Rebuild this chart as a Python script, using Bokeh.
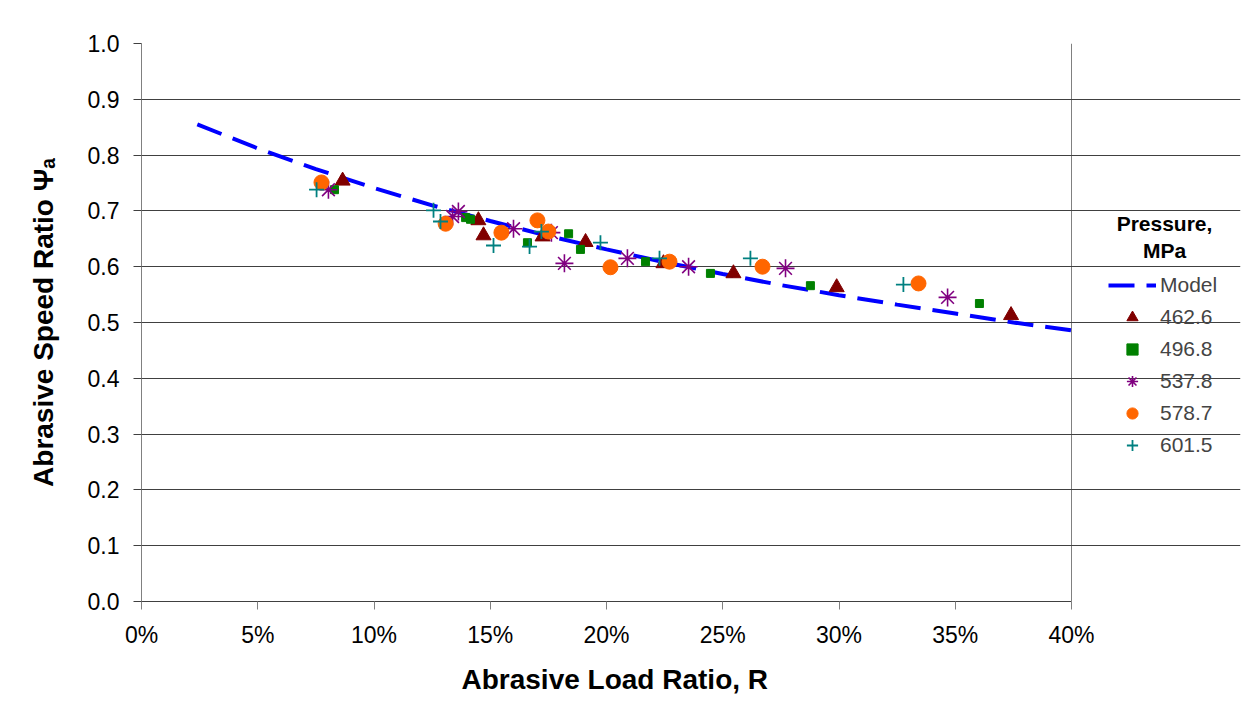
from bokeh.plotting import figure
from bokeh.models import (ColumnDataSource, Legend, LegendItem, Label, Title,
                          NumeralTickFormatter, FixedTicker, Range1d)
from bokeh.embed import file_html
from bokeh.resources import INLINE

FONT = "Liberation Sans"

# Model curve: load ratio in %, speed ratio
model_x = [2.4, 5, 7.5, 10, 12.5, 15, 17.5, 20, 22.5, 25, 27.5, 30, 32.5, 35, 37.5, 40]
model_y = [0.855, 0.812, 0.775, 0.741, 0.710, 0.682, 0.655, 0.631, 0.608, 0.587,
           0.567, 0.549, 0.532, 0.516, 0.500, 0.486]

# Measured series, by pressure (MPa)
p4626_x = [8.65, 14.49, 14.71, 17.25, 19.1, 22.45, 25.46, 29.9, 37.4]
p4626_y = [0.754, 0.683, 0.656, 0.654, 0.644, 0.606, 0.588, 0.563, 0.513]

p4968_x = [8.3, 13.94, 14.15, 16.6, 18.37, 18.88, 21.68, 24.47, 28.77, 36.04]
p4968_y = [0.738, 0.688, 0.685, 0.643, 0.659, 0.631, 0.609, 0.588, 0.566, 0.534]

p5378_x = [8.04, 13.38, 13.63, 16.0, 17.63, 18.19, 20.9, 23.53, 27.7, 34.67]
p5378_y = [0.738, 0.690, 0.699, 0.668, 0.661, 0.606, 0.615, 0.600, 0.597, 0.545]

p5787_x = [7.74, 13.08, 15.48, 17.03, 17.5, 20.17, 22.71, 26.71, 33.42]
p5787_y = [0.751, 0.677, 0.661, 0.683, 0.663, 0.599, 0.609, 0.600, 0.570]

p6015_x = [7.53, 12.56, 12.86, 15.14, 16.69, 17.2, 19.74, 22.28, 26.19, 32.77]
p6015_y = [0.738, 0.701, 0.681, 0.638, 0.636, 0.663, 0.643, 0.615, 0.615, 0.568]

x_ticks = [0, 0.05, 0.10, 0.15, 0.20, 0.25, 0.30, 0.35, 0.40]
y_ticks = [0.0, 0.1, 0.2, 0.3, 0.4, 0.5, 0.6, 0.7, 0.8, 0.9, 1.0]
legend_labels = ["Model", "462.6", "496.8", "537.8", "578.7", "601.5"]
legend_title = ["Pressure,", "MPa"]
x_title = "Abrasive Load Ratio, R"
y_title = "Abrasive Speed Ratio Ψₐ"

X_MAX = 0.40
W, H = 1245, 709
LEFT, RIGHT, TOP, BOTTOM = 141, 5, 43, 108
PLOT_W = 930  # pixel width of the 0..40% area
frame_w = W - LEFT - RIGHT
x_end = X_MAX * frame_w / PLOT_W


def src(xs, ys):
    return ColumnDataSource(dict(x=[v / 100 for v in xs], y=ys))


p = figure(width=W, height=H, output_backend="svg", toolbar_location=None,
           x_range=Range1d(0, x_end), y_range=Range1d(0, 1.0),
           min_border_left=LEFT, min_border_right=RIGHT, min_border_top=TOP,
           min_border_bottom=BOTTOM)
p.background_fill_color = "white"
p.border_fill_color = "white"
p.outline_line_color = None

# horizontal gridlines only across the 0..40% area
p.ygrid.grid_line_color = "#404040"
p.ygrid.grid_line_width = 1
p.ygrid.ticker = FixedTicker(ticks=y_ticks)
p.ygrid.bounds = (0, X_MAX)
# right border of plot area
p.xgrid.ticker = FixedTicker(ticks=[X_MAX])
p.xgrid.grid_line_color = "#808080"
p.xgrid.grid_line_width = 1
p.xgrid.bounds = (0, 1.0)

p.xaxis.ticker = FixedTicker(ticks=x_ticks)
p.yaxis.ticker = FixedTicker(ticks=y_ticks)
p.xaxis.bounds = (0, X_MAX)
p.xaxis.formatter = NumeralTickFormatter(format="0%")
p.yaxis.formatter = NumeralTickFormatter(format="0.0")

for ax in (p.xaxis[0], p.yaxis[0]):
    ax.major_label_text_font = FONT
    ax.major_label_text_font_size = "23px"
    ax.major_label_text_color = "black"
    ax.axis_label_text_font = FONT
    ax.axis_label_text_font_size = "28px"
    ax.axis_label_text_font_style = "bold"
    ax.axis_label_text_color = "black"
    ax.minor_tick_line_color = None
    ax.major_tick_in = 0
    ax.major_tick_out = 8
    ax.axis_line_width = 1

p.yaxis.axis_label = y_title
p.xaxis.axis_line_color = "#404040"
p.xaxis.major_tick_line_color = "#808080"
p.yaxis.axis_line_color = "#808080"
p.yaxis.major_tick_line_color = "#404040"
p.xaxis.major_label_standoff = 12
p.yaxis.major_label_standoff = 14
p.yaxis.axis_label_standoff = 26

# x-axis title, placed under the 0..40% area (not the whole frame)
p.add_layout(Title(text=x_title, align="left", offset=320,
                   standoff=22, text_font=FONT, text_font_size="28px",
                   text_font_style="bold", text_color="black"), "below")

r_model = p.line("x", "y", source=src(model_x, model_y), line_color="#0000FF",
                 line_width=4, line_dash="26 12")

r1 = p.scatter("x", "y", source=src(p4626_x, p4626_y), marker="triangle", size=15,
               fill_color="#800000", line_color="#800000")
r2 = p.scatter("x", "y", source=src(p4968_x, p4968_y), marker="square", size=8,
               fill_color="#008000", line_color="#008000")
r3 = p.scatter("x", "y", source=src(p5378_x, p5378_y), marker="asterisk", size=18,
               line_color="#800080", line_width=1.6)
r4 = p.scatter("x", "y", source=src(p5787_x, p5787_y), marker="circle", size=15,
               fill_color="#FF6600", line_color="#FF6600")
r5 = p.scatter("x", "y", source=src(p6015_x, p6015_y), marker="cross", size=15,
               line_color="#008080", line_width=1.8)

renderers = [r_model, r1, r2, r3, r4, r5]
legend = Legend(items=[LegendItem(label=lab, renderers=[r])
                       for lab, r in zip(legend_labels, renderers)],
                location=(967, 142), padding=0, margin=0, spacing=4,
                glyph_width=48, glyph_height=28, label_height=28, label_standoff=4,
                label_text_font=FONT, label_text_font_size="21px",
                label_text_baseline="middle",
                border_line_color=None, background_fill_alpha=0)
p.add_layout(legend, "center")

for txt, yy in zip(legend_title, (378, 351)):
    p.add_layout(Label(x=1023, y=yy, x_units="screen", y_units="screen", text=txt,
                       text_align="center", text_baseline="middle",
                       text_font=FONT, text_font_size="21px",
                       text_font_style="bold", text_color="black"))

open("out.html", "w").write(file_html(p, INLINE))
